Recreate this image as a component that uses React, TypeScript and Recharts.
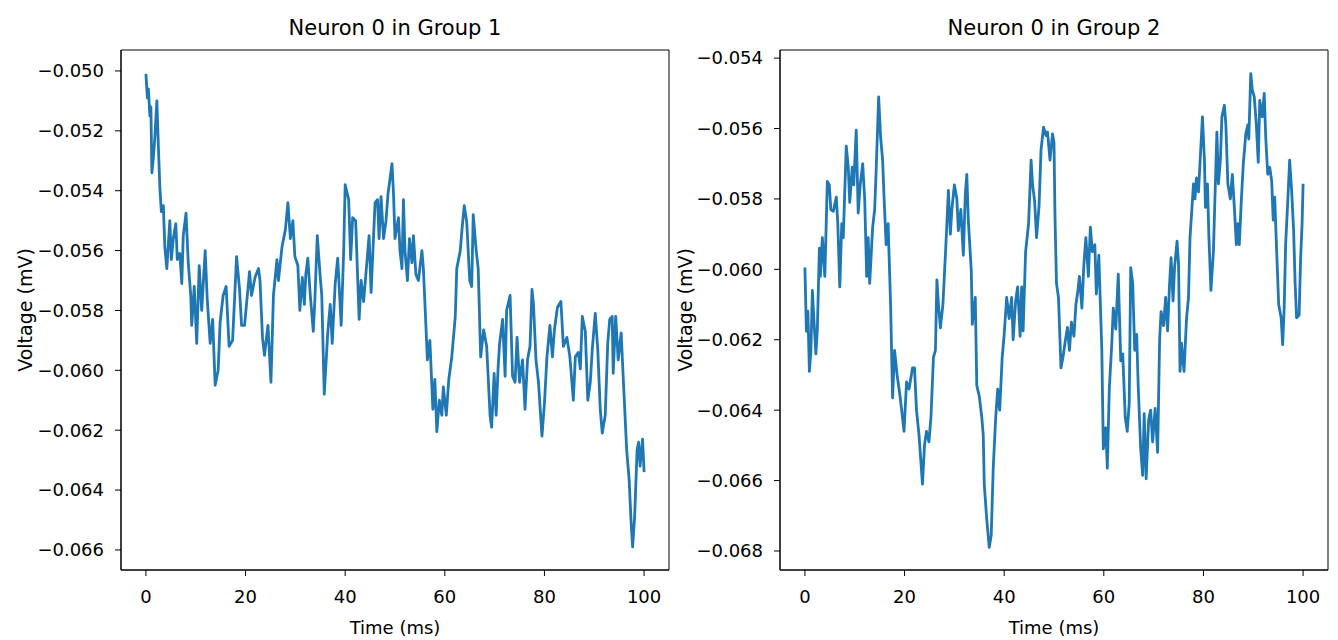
import { LineChart, Line, XAxis, YAxis, ReferenceArea } from "recharts";

// Group 1 trace (time in ms, voltage in V)
const timeG1 = [
  0, 0.3, 0.5, 0.8, 1.0, 1.2, 1.5, 1.8, 2.2, 2.5, 2.8, 3.1, 3.5, 3.8, 4.2, 4.8, 5.1, 5.5, 6.0, 6.3,
  6.8, 7.2, 7.5, 8.05, 8.5, 9.0, 9.2, 9.7, 10.2, 10.7, 11.2, 11.9, 12.3, 12.9, 13.4, 13.9, 14.5, 14.9, 15.5, 16.1,
  16.7, 17.4, 18.2, 18.8, 19.2, 19.8, 20.8, 21.2, 21.9, 22.6, 22.9, 23.4, 23.8, 24.5, 25.1, 25.6, 26.3, 26.6, 27.3, 28.0,
  28.5, 29.0, 29.5, 29.9, 30.5, 30.9, 31.4, 31.8, 32.1, 32.5, 33.0, 33.6, 33.9, 34.4, 35.0, 35.3, 35.8, 36.5, 37.0, 37.4,
  38.0, 38.5, 39.2, 39.7, 40.0, 40.7, 41.1, 41.5, 42.1, 42.8, 43.2, 43.7, 44.1, 44.8, 45.2, 46.0, 46.5, 46.8, 47.2, 47.7,
  48.2, 48.6, 49.4, 49.7, 50.0, 50.7, 51.0, 51.4, 51.7, 52.0, 52.5, 52.9, 53.4, 53.7, 54.2, 54.7, 55.4, 55.7, 56.2, 56.5,
  57.0, 57.6, 58.0, 58.4, 58.9, 59.4, 59.7, 60.3, 60.8, 61.4, 62.1, 62.4, 63.1, 63.5, 63.9, 64.4, 65.0, 65.4, 65.7, 66.3,
  66.7, 67.2, 67.8, 68.4, 69.1, 69.4, 69.9, 70.3, 70.7, 71.0, 71.6, 72.1, 72.4, 73.1, 73.6, 74.1, 74.5, 75.0, 75.6, 76.1,
  76.6, 77.1, 77.5, 77.8, 78.3, 78.8, 79.5, 80.0, 80.5, 81.1, 81.6, 82.0, 82.6, 83.3, 83.8, 84.5, 85.1, 85.8, 86.2, 86.8,
  87.2, 87.6, 88.2, 88.7, 89.2, 89.6, 90.2, 90.7, 91.2, 91.6, 92.2, 92.7, 93.1, 93.6, 93.8, 94.3, 94.8, 95.4, 95.8, 96.5,
  97.0, 97.4, 97.7, 98.1, 98.6, 98.9, 99.2, 99.7, 100,
];
const voltG1 = [
  -0.0501, -0.0509, -0.0506, -0.0515, -0.0512, -0.0534, -0.0529, -0.0522, -0.051, -0.0525, -0.0539, -0.0547, -0.0545, -0.0559, -0.0566, -0.055, -0.0563, -0.0556, -0.0551, -0.0563,
  -0.0561, -0.0571, -0.0555, -0.05475, -0.0564, -0.0575, -0.0585, -0.0572, -0.0591, -0.0565, -0.058, -0.056, -0.0576, -0.0591, -0.0583, -0.0605, -0.06, -0.0584, -0.0575, -0.0572,
  -0.0592, -0.059, -0.0562, -0.0573, -0.0585, -0.0585, -0.0567, -0.0575, -0.0569, -0.0566, -0.057, -0.0589, -0.0595, -0.0585, -0.0604, -0.0575, -0.0563, -0.057, -0.0559, -0.0553,
  -0.0544, -0.0556, -0.055, -0.0562, -0.0565, -0.058, -0.0569, -0.0578, -0.0568, -0.05625, -0.0575, -0.0587, -0.0577, -0.0555, -0.0569, -0.0575, -0.0608, -0.05875, -0.0578, -0.0591,
  -0.0571, -0.05625, -0.0585, -0.056, -0.0538, -0.0543, -0.0563, -0.0549, -0.055, -0.0583, -0.057, -0.0577, -0.0569, -0.0555, -0.0574, -0.0544, -0.0543, -0.0556, -0.0542, -0.0556,
  -0.055, -0.0541, -0.0531, -0.0541, -0.0556, -0.0549, -0.056, -0.0566, -0.0543, -0.056, -0.057, -0.0556, -0.0564, -0.0555, -0.0568, -0.057, -0.056, -0.0566, -0.0585, -0.05965,
  -0.059, -0.0613, -0.0603, -0.06205, -0.061, -0.0615, -0.06055, -0.0615, -0.0603, -0.05955, -0.0582, -0.0566, -0.056, -0.0552, -0.0545, -0.05505, -0.057, -0.0572, -0.0548, -0.056,
  -0.0566, -0.05955, -0.05865, -0.0592, -0.06155, -0.0619, -0.0601, -0.0615, -0.0599, -0.0591, -0.0583, -0.0602, -0.058, -0.0575, -0.0602, -0.0604, -0.0589, -0.0604, -0.05965, -0.0613,
  -0.05965, -0.0592, -0.0573, -0.0578, -0.05965, -0.0604, -0.0622, -0.0611, -0.05955, -0.0585, -0.05955, -0.05865, -0.0579, -0.0577, -0.0592, -0.0589, -0.05955, -0.061, -0.05955, -0.0594,
  -0.05995, -0.0582, -0.0587, -0.061, -0.0604, -0.0593, -0.0581, -0.0593, -0.0613, -0.0621, -0.0615, -0.0591, -0.0583, -0.0582, -0.0601, -0.0582, -0.05965, -0.05875, -0.0602, -0.06265,
  -0.06365, -0.0651, -0.0659, -0.0649, -0.06265, -0.0624, -0.0632, -0.0623, -0.0634,
];

// Group 2 trace (time in ms, voltage in V)
const timeG2 = [
  0, 0.3, 0.6, 0.9, 1.2, 1.5, 1.8, 2.2, 2.5, 2.9, 3.1, 3.5, 4.0, 4.5, 4.9, 5.2, 5.7, 6.3, 6.6, 7.0,
  7.4, 7.7, 8.3, 8.7, 9.0, 9.5, 9.8, 10.3, 10.7, 11.1, 11.6, 12.0, 12.4, 12.7, 13.0, 13.6, 14.0, 14.3, 14.8, 15.2,
  15.6, 15.9, 16.3, 16.7, 17.2, 17.6, 18.0, 18.5, 19.0, 19.3, 19.9, 20.4, 20.9, 21.6, 22.0, 22.4, 22.9, 23.6, 24.0, 24.4,
  24.9, 25.3, 25.8, 26.2, 26.5, 26.8, 27.2, 27.7, 28.3, 28.8, 29.2, 29.5, 30.0, 30.5, 30.8, 31.3, 31.8, 32.2, 32.5, 32.8,
  33.4, 33.6, 34.2, 34.5, 35.0, 35.5, 35.8, 36.0, 36.5, 37.0, 37.4, 37.8, 38.3, 38.7, 39.1, 39.6, 40.0, 40.5, 41.0, 41.5,
  41.8, 42.3, 42.7, 43.2, 43.5, 43.8, 44.3, 44.9, 45.4, 45.7, 46.1, 46.5, 47.0, 47.4, 47.9, 48.4, 48.7, 49.2, 49.7, 50.0,
  50.2, 50.5, 50.9, 51.4, 51.8, 52.2, 52.7, 53.1, 53.5, 54.0, 54.4, 54.8, 55.1, 55.6, 56.0, 56.4, 56.9, 57.3, 57.7, 58.2,
  58.5, 59.0, 59.6, 59.9, 60.4, 60.7, 61.1, 61.6, 61.9, 62.4, 62.9, 63.4, 63.8, 64.3, 64.7, 65.1, 65.4, 65.8, 66.2, 66.6,
  66.9, 67.4, 67.8, 68.1, 68.5, 69.0, 69.4, 69.8, 70.3, 70.8, 71.2, 71.5, 72.0, 72.4, 72.8, 73.2, 73.5, 73.9, 74.2, 74.7,
  75.0, 75.3, 75.6, 76.1, 76.6, 77.0, 77.3, 77.7, 78.0, 78.3, 78.6, 79.0, 79.3, 79.8, 80.2, 80.4, 80.8, 81.1, 81.5, 82.0,
  82.3, 82.7, 83.0, 83.4, 83.7, 84.2, 84.5, 84.9, 85.4, 85.8, 86.2, 86.6, 86.9, 87.2, 87.6, 88.0, 88.5, 88.9, 89.1, 89.5,
  89.8, 90.2, 90.6, 91.0, 91.3, 91.8, 92.2, 92.5, 92.9, 93.3, 93.7, 94.0, 94.3, 94.7, 95.1, 95.6, 95.9, 96.2, 96.5, 96.9,
  97.3, 97.7, 98.1, 98.4, 98.7, 99.2, 99.5, 99.8, 100,
];
const voltG2 = [
  -0.05995, -0.06176, -0.06119, -0.0629, -0.06233, -0.0606, -0.0614, -0.0624, -0.0617, -0.0594, -0.0602, -0.0591, -0.0602, -0.0575, -0.0576, -0.0583, -0.05835, -0.05795, -0.0587, -0.0605,
  -0.0587, -0.0591, -0.0565, -0.0571, -0.0581, -0.0571, -0.0576, -0.05605, -0.0584, -0.0576, -0.057, -0.058, -0.0602, -0.0591, -0.0604, -0.0588, -0.0583, -0.0572, -0.0551, -0.05625,
  -0.0569, -0.058, -0.0593, -0.0587, -0.061, -0.06365, -0.0623, -0.063, -0.0635, -0.06385, -0.0646, -0.0632, -0.0634, -0.0628, -0.0628, -0.064, -0.0647, -0.0661, -0.065, -0.0646,
  -0.0649, -0.0642, -0.0625, -0.0623, -0.0603, -0.061, -0.06166, -0.061, -0.0593, -0.05776, -0.059, -0.0583, -0.0576, -0.058, -0.0589, -0.0583, -0.0596, -0.05786, -0.0573, -0.0586,
  -0.06005, -0.06156, -0.0608, -0.0633, -0.0636, -0.0642, -0.0647, -0.0661, -0.0671, -0.0679, -0.06755, -0.06565, -0.0642, -0.0634, -0.064, -0.0625, -0.06185, -0.0608, -0.0614, -0.0608,
  -0.062, -0.0609, -0.0605, -0.0619, -0.0605, -0.06175, -0.0595, -0.0587, -0.0569, -0.0576, -0.05805, -0.0591, -0.0582, -0.0566, -0.05596, -0.0562, -0.0561, -0.0569, -0.05615, -0.0564,
  -0.0585, -0.0604, -0.0608, -0.0628, -0.0625, -0.0621, -0.06165, -0.0623, -0.0615, -0.0619, -0.061, -0.0606, -0.0602, -0.0611, -0.05985, -0.0591, -0.0602, -0.0588, -0.0595, -0.0593,
  -0.0607, -0.0596, -0.0623, -0.0651, -0.0645, -0.06565, -0.0634, -0.0621, -0.0611, -0.0617, -0.06014, -0.0626, -0.0624, -0.0642, -0.0646, -0.0638, -0.05995, -0.0604, -0.0623, -0.06185,
  -0.0633, -0.0651, -0.06585, -0.0641, -0.06595, -0.06427, -0.064, -0.0649, -0.06395, -0.0652, -0.062, -0.0612, -0.0616, -0.0608, -0.06175, -0.0604, -0.05967, -0.0609, -0.05995, -0.0592,
  -0.05985, -0.0629, -0.0621, -0.0629, -0.0614, -0.0608, -0.0591, -0.05824, -0.05757, -0.058, -0.0574, -0.0578, -0.057, -0.05567, -0.0569, -0.05824, -0.05757, -0.0591, -0.0606, -0.0595,
  -0.058, -0.0561, -0.05757, -0.0569, -0.05567, -0.05534, -0.0559, -0.05757, -0.058, -0.0573, -0.05824, -0.0593, -0.0587, -0.0593, -0.05805, -0.057, -0.05615, -0.0559, -0.0563, -0.05444,
  -0.0549, -0.0551, -0.05586, -0.05696, -0.0552, -0.05567, -0.055, -0.05625, -0.0573, -0.0571, -0.0575, -0.0586, -0.05795, -0.0595, -0.061, -0.06138, -0.06214, -0.0611, -0.05928, -0.05814,
  -0.0569, -0.05776, -0.0589, -0.0604, -0.06138, -0.0613, -0.0597, -0.0587, -0.05757,
];

const xTicks = [0, 20, 40, 60, 80, 100];
const yTicksG1 = [-0.066, -0.064, -0.062, -0.06, -0.058, -0.056, -0.054, -0.052, -0.05];
const yTicksG2 = [-0.068, -0.066, -0.064, -0.062, -0.06, -0.058, -0.056, -0.054];

const dataG1 = timeG1.map((t, i) => ({ t, v: voltG1[i] }));
const dataG2 = timeG2.map((t, i) => ({ t, v: voltG2[i] }));

const FONT = "DejaVu Sans";
const X_DOMAIN = [-5, 105];
const fmt = (v: number) => (v < 0 ? "\u2212" : "") + Math.abs(v).toFixed(3);

function Panel({ data, yTicks, yDomain, left, width, rightMargin, labelOffset }: any) {
  const tickStyle = { fill: "#000", fontSize: 18, fontFamily: FONT };
  return (
    <div style={{ position: "absolute", left, top: 0 }}>
      <LineChart width={width} height={640} data={data} margin={{ top: 50, right: rightMargin, bottom: 0, left: 21 }}>
        <XAxis
          xAxisId="x"
          dataKey="t"
          type="number"
          domain={X_DOMAIN}
          ticks={xTicks}
          interval={0}
          height={70}
          tickSize={6}
          tickMargin={14}
          tick={tickStyle}
          stroke="#000"
          allowDataOverflow
          label={{ value: "Time (ms)", position: "insideBottom", offset: 6, fill: "#000", fontSize: 18, fontFamily: FONT }}
        />
        <YAxis
          yAxisId="y"
          type="number"
          domain={yDomain}
          ticks={yTicks}
          interval={0}
          width={100}
          tickSize={6}
          tickMargin={11}
          tick={tickStyle}
          tickFormatter={fmt}
          stroke="#000"
          allowDataOverflow
          label={{
            value: "Voltage (mV)",
            angle: -90,
            position: "insideLeft",
            offset: labelOffset,
            fill: "#000",
            fontSize: 19,
            fontFamily: FONT,
            style: { textAnchor: "middle" },
          }}
        />
        {/* frame around the plot area (top and right spines) */}
        <ReferenceArea
          xAxisId="x"
          yAxisId="y"
          x1={X_DOMAIN[0]}
          x2={X_DOMAIN[1]}
          y1={yDomain[0]}
          y2={yDomain[1]}
          fill="none"
          fillOpacity={0}
          stroke="#000"
          strokeWidth={1}
          ifOverflow="visible"
        />
        <Line
          xAxisId="x"
          yAxisId="y"
          type="linear"
          dataKey="v"
          stroke="#1f77b4"
          strokeWidth={2.8}
          strokeLinejoin="round"
          dot={false}
          isAnimationActive={false}
        />
      </LineChart>
    </div>
  );
}

export default function App() {
  const titleStyle: any = {
    position: "absolute",
    top: 13,
    width: 548,
    textAlign: "center",
    fontFamily: FONT,
    fontSize: 21,
    color: "#000",
    lineHeight: "30px",
  };
  return (
    <div style={{ position: "absolute", left: 0, top: 0, width: 1338, height: 640, background: "#fff" }}>
      <Panel data={dataG1} yTicks={yTicksG1} yDomain={[-0.06667, -0.0493]} left={0} width={700} rightMargin={31} labelOffset={4} />
      <Panel data={dataG2} yTicks={yTicksG2} yDomain={[-0.06854, -0.05377]} left={659} width={679} rightMargin={10} labelOffset={5} />
      <div style={{ ...titleStyle, left: 121 }}>Neuron 0 in Group 1</div>
      <div style={{ ...titleStyle, left: 780 }}>Neuron 0 in Group 2</div>
    </div>
  );
}
